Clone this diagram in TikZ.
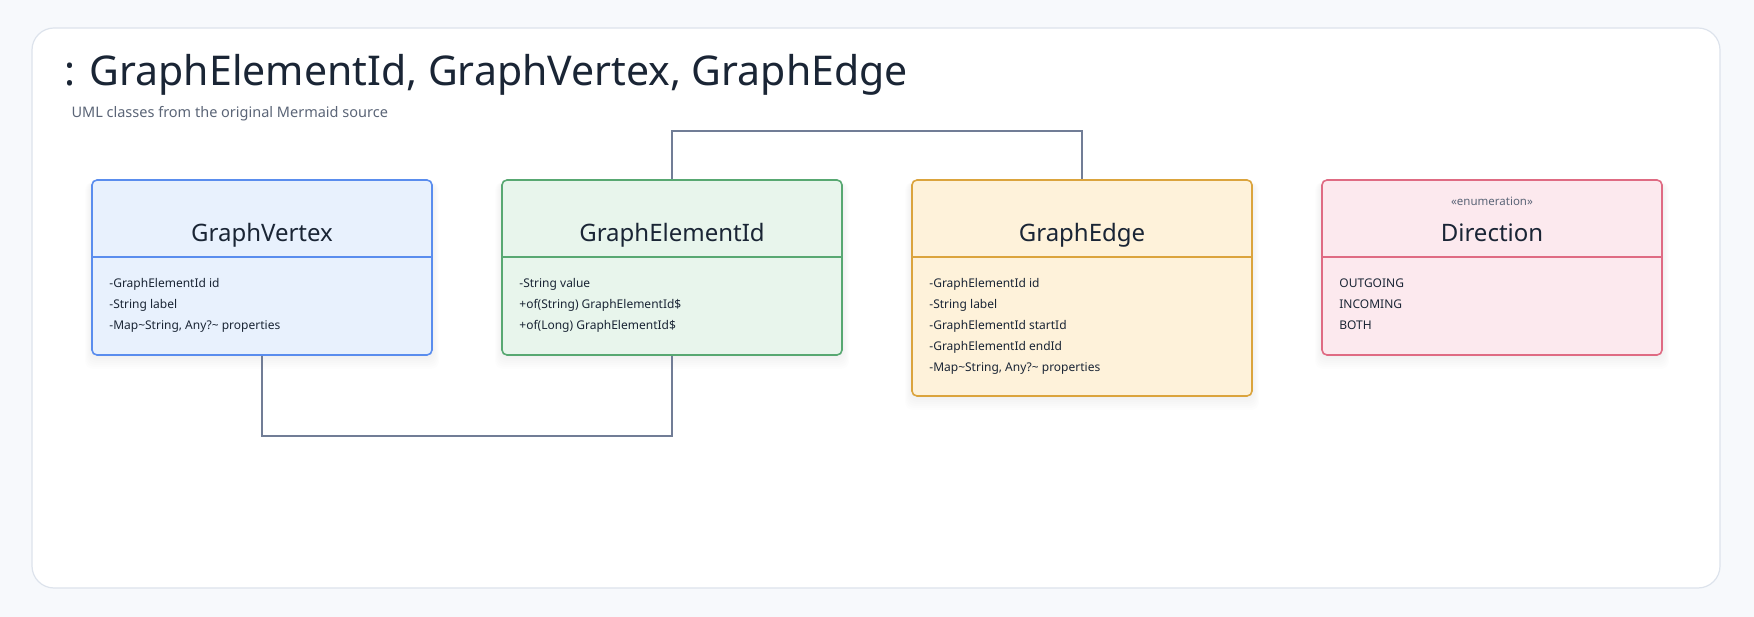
\documentclass[tikz,border=0pt]{standalone}
\usepackage{fontspec}
\setmainfont{Noto Sans}

\definecolor{pagebg}{HTML}{F7F9FC}
\definecolor{cardline}{HTML}{DDE3EC}
\definecolor{ink}{HTML}{1A2535}
\definecolor{subgray}{HTML}{5B6577}
\definecolor{linkgray}{HTML}{717D96}
\definecolor{vertexfill}{HTML}{E8F1FD}
\definecolor{vertexline}{HTML}{5A8DEE}
\definecolor{idfill}{HTML}{E8F5EC}
\definecolor{idline}{HTML}{58A872}
\definecolor{edgefill}{HTML}{FEF2DA}
\definecolor{edgeline}{HTML}{DBA43D}
\definecolor{dirfill}{HTML}{FCE9EE}
\definecolor{dirline}{HTML}{DF6B83}

\begin{document}
\begin{tikzpicture}[x=1pt,y=-1pt,
  class box/.style={rectangle,rounded corners=5pt,line width=1.6pt,
    minimum width=340pt,inner sep=0pt},
  class title/.style={font=\fontsize{24}{30}\selectfont,text=ink,anchor=base},
  member list/.style={font=\fontsize{12}{21}\selectfont,text=ink,
    align=left,anchor=north west,inner sep=0pt},
  link/.style={draw=linkgray,line width=1.6pt}]

  \useasboundingbox[fill=pagebg] (0,0) rectangle (1754,617);
  \draw[draw=cardline,fill=white,rounded corners=22pt,line width=1.2pt]
    (32,28) rectangle (1720,588);

  \node[anchor=base west,font=\fontsize{41}{50}\selectfont,text=ink] (heading)
    at (61,86) {: GraphElementId, GraphVertex, GraphEdge};
  \node[anchor=base west,font=\fontsize{14.5}{18}\selectfont,text=subgray] (subheading)
    at (68,118) {UML classes from the original Mermaid source};

  % soft shadows under the class boxes
  \foreach \cx/\top/\bot in {262/180/355,672/180/355,1082/180/396,1492/180/355}
    \foreach \s in {2,4,...,14}
      \fill[black,opacity=0.007,rounded corners=8pt]
        (\cx-170-\s/2,\top+2) rectangle (\cx+170+\s/2,\bot+\s);

  \node[class box,draw=vertexline,fill=vertexfill,minimum height=175pt] (vertex) at (262,267.5) {};
  \node[class box,draw=idline,fill=idfill,minimum height=175pt] (elementid) at (672,267.5) {};
  \node[class box,draw=edgeline,fill=edgefill,minimum height=216pt] (edge) at (1082,288) {};
  \node[class box,draw=dirline,fill=dirfill,minimum height=175pt] (direction) at (1492,267.5) {};

  \draw[draw=vertexline,line width=1.6pt] ([yshift=-78pt]vertex.north west) -- ([yshift=-78pt]vertex.north east);
  \draw[draw=idline,line width=1.6pt] ([yshift=-78pt]elementid.north west) -- ([yshift=-78pt]elementid.north east);
  \draw[draw=edgeline,line width=1.6pt] ([yshift=-78pt]edge.north west) -- ([yshift=-78pt]edge.north east);
  \draw[draw=dirline,line width=1.6pt] ([yshift=-78pt]direction.north west) -- ([yshift=-78pt]direction.north east);

  \node[class title] (vertex title) at (262,242) {GraphVertex};
  \node[class title] (elementid title) at (672,242) {GraphElementId};
  \node[class title] (edge title) at (1082,242) {GraphEdge};
  \node[class title] (direction title) at (1492,242) {Direction};
  \node[anchor=base,font=\fontsize{11.5}{14}\selectfont,text=subgray] (direction stereo)
    at (1492,206) {«enumeration»};

  \node[member list] (vertex members) at ([xshift=18pt,yshift=-99pt]vertex.north west)
    {-GraphElementId id\\-String label\\-Map\textasciitilde String, Any?\textasciitilde{} properties};
  \node[member list] (elementid members) at ([xshift=18pt,yshift=-99pt]elementid.north west)
    {-String value\\+of(String) GraphElementId\$\\+of(Long) GraphElementId\$};
  \node[member list] (edge members) at ([xshift=18pt,yshift=-99pt]edge.north west)
    {-GraphElementId id\\-String label\\-GraphElementId startId\\-GraphElementId endId\\-Map\textasciitilde String, Any?\textasciitilde{} properties};
  \node[member list] (direction members) at ([xshift=18pt,yshift=-99pt]direction.north west)
    {OUTGOING\\INCOMING\\BOTH};

  \draw[link] (vertex.south) -- ++(0,80) -| (elementid.south);
  \draw[link] (elementid.north) -- ++(0,-48) -| (edge.north);
\end{tikzpicture}
\end{document}
